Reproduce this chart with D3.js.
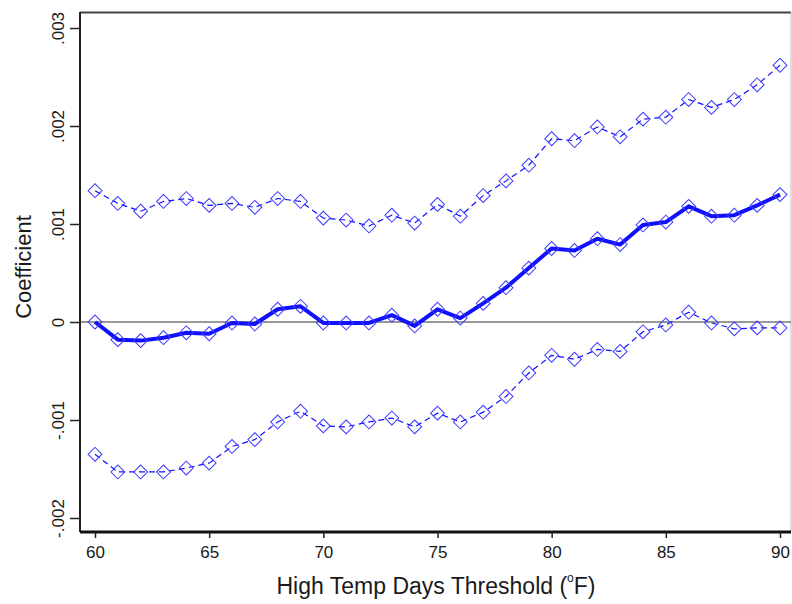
<!DOCTYPE html>
<html>
<head>
<meta charset="utf-8">
<script src="https://cdn.jsdelivr.net/npm/d3@7"></script>
<style>
  html, body { margin: 0; padding: 0; background: #fff; }
  svg { display: block; }
  text { font-family: "Liberation Sans", Arial, sans-serif; fill: #1a1a1a; }
</style>
</head>
<body>
<svg id="chart" width="792" height="604"></svg>
<script>
const thresholds = d3.range(60, 91);
const coefficient = [0.0, -0.00018, -0.00019, -0.00016, -0.00011, -0.00012, -0.00001, -0.00002, 0.00013, 0.00016,
  -0.00001, -0.00001, -0.00001, 0.00007, -0.00004, 0.00013, 0.00004, 0.00019, 0.00035, 0.00055,
  0.00075, 0.00073, 0.00085, 0.00079, 0.00099, 0.00102, 0.00118, 0.00108, 0.00109, 0.00119, 0.00130];
const upperCI = [0.00134, 0.00121, 0.00113, 0.00123, 0.00126, 0.00119, 0.00121, 0.00117, 0.00126, 0.00123,
  0.00106, 0.00104, 0.00098, 0.00109, 0.00101, 0.00120, 0.00108, 0.00129, 0.00144, 0.00160,
  0.00187, 0.00185, 0.00199, 0.00189, 0.00207, 0.00209, 0.00227, 0.00219, 0.00227, 0.00242, 0.00262];
const lowerCI = [-0.00135, -0.00153, -0.00153, -0.00153, -0.00149, -0.00144, -0.00127, -0.00120, -0.00102, -0.00091,
  -0.00106, -0.00107, -0.00102, -0.00098, -0.00107, -0.00093, -0.00102, -0.00092, -0.00076, -0.00052,
  -0.00034, -0.00038, -0.00028, -0.00030, -0.00010, -0.00003, 0.00010, -0.00001, -0.00007, -0.00006, -0.00006];
const xTicks = [60, 65, 70, 75, 80, 85, 90];
const yTicks = [-0.002, -0.001, 0, 0.001, 0.002, 0.003];
const yTickLabels = ["-.002", "-.001", "0", ".001", ".002", ".003"];

const svg = d3.select("#chart");
const plot = { left: 80, right: 791, top: 12, bottom: 532 };
const x = d3.scaleLinear().domain([60, 90]).range([95, 780]);
const y = d3.scaleLinear().domain([-0.002, 0.003]).range([518, 28]);

// frame: top and right
svg.append("line").attr("x1", plot.left).attr("x2", plot.right).attr("y1", plot.top + 0.5).attr("y2", plot.top + 0.5)
  .attr("stroke", "#444").attr("stroke-width", 2);
svg.append("line").attr("x1", plot.right).attr("x2", plot.right).attr("y1", plot.top).attr("y2", plot.bottom)
  .attr("stroke", "#bbb").attr("stroke-width", 1);

// zero line
svg.append("line").attr("x1", plot.left).attr("x2", plot.right).attr("y1", y(0)).attr("y2", y(0))
  .attr("stroke", "#333").attr("stroke-width", 1.2);

// y axis
const yAxis = d3.axisLeft(y).tickValues(yTicks).tickSize(10).tickFormat((d, i) => yTickLabels[i]);
const gy = svg.append("g").attr("transform", `translate(${plot.left},0)`).call(yAxis);
gy.select(".domain").attr("d", `M0,${plot.top}V${plot.bottom}`).attr("stroke", "#222").attr("stroke-width", 2);
gy.selectAll(".tick line").attr("stroke", "#222").attr("stroke-width", 1.5);
gy.selectAll(".tick text")
  .attr("font-size", 17).attr("fill", "#1a1a1a")
  .attr("text-anchor", "middle")
  .attr("x", null).attr("dy", null)
  .attr("transform", "translate(-16,0) rotate(-90)")
  .attr("y", 0);

// x axis
const xAxis = d3.axisBottom(x).tickValues(xTicks).tickSize(6).tickFormat(d3.format("d"));
const gx = svg.append("g").attr("transform", `translate(0,${plot.bottom})`).call(xAxis);
gx.select(".domain").attr("d", `M${plot.left},0H${plot.right}`).attr("stroke", "#111").attr("stroke-width", 3);
gx.selectAll(".tick line").attr("stroke", "#222").attr("stroke-width", 1.5);
gx.selectAll(".tick text").attr("font-size", 17).attr("fill", "#1a1a1a").attr("y", 14);

// axis titles
svg.append("text").attr("transform", "translate(31,267) rotate(-90)").attr("text-anchor", "middle")
  .attr("font-size", 22).text("Coefficient");
const xt = svg.append("text").attr("x", 436).attr("y", 594).attr("text-anchor", "middle").attr("font-size", 23);
xt.append("tspan").text("High Temp Days Threshold (");
xt.append("tspan").attr("font-size", 12).attr("dy", -12).text("o");
xt.append("tspan").attr("dy", 12).text("F)");

const blue = "#1010ff";
const line = d3.line().x((d, i) => x(thresholds[i])).y(d => y(d));
const diamond = d3.symbol().type(d3.symbolSquare).size(96);

function drawSeries(vals, opts) {
  svg.append("path").datum(vals).attr("d", line).attr("fill", "none")
    .attr("stroke", blue).attr("stroke-width", opts.width)
    .attr("stroke-dasharray", opts.dash || null)
    .attr("stroke-linejoin", "round");
  svg.append("g").selectAll("path").data(vals).join("path")
    .attr("d", diamond)
    .attr("transform", (d, i) => `translate(${x(thresholds[i])},${y(d)}) rotate(45)`)
    .attr("fill", "none").attr("stroke", "#3a3aff").attr("stroke-width", 1);
}
drawSeries(upperCI, { width: 1.2, dash: "6,4" });
drawSeries(lowerCI, { width: 1.2, dash: "6,4" });
drawSeries(coefficient, { width: 4 });
</script>
</body>
</html>
